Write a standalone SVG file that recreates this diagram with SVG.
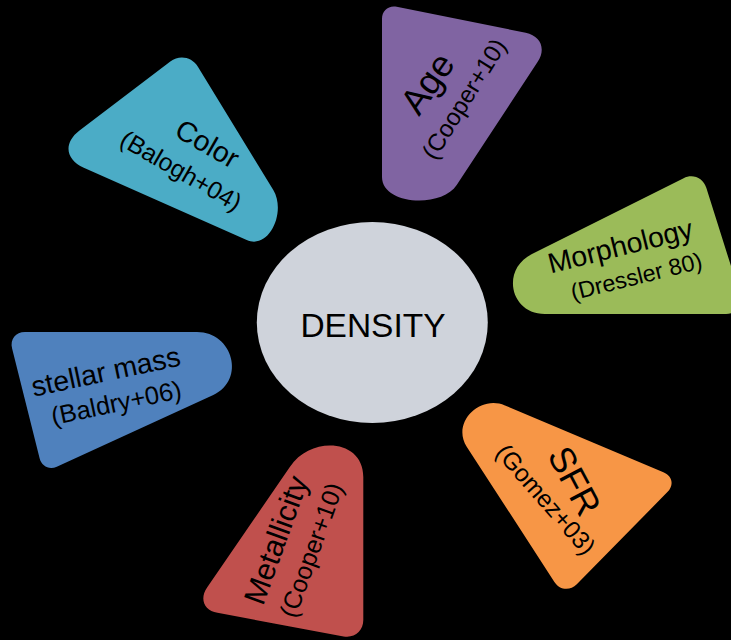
<svg xmlns="http://www.w3.org/2000/svg" width="731" height="640" viewBox="0 0 731 640">
  <style>
    .lbl { font-family: "Liberation Sans", Arial, sans-serif; fill: #000; text-anchor: middle; }
    .hub { fill: #CFD3DB; }
  </style>
  <!-- background -->
  <rect x="0" y="0" width="731" height="640" fill="#000"/>

  <!-- central hub -->
  <g id="density">
    <ellipse class="hub" cx="372.3" cy="322.5" rx="115.5" ry="100.5"/>
    <text class="lbl" x="373" y="336.7" font-size="33.5">DENSITY</text>
  </g>

  <!-- tapered petals around the hub, rounded caps pointing inward -->
  <g id="color">
    <path fill="#4BACC6" d="M79.5,130.4 L170.3,61.5 C179.5,54.5 191.9,56.9 197.9,66.7 L273.3,190 C286.3,211.3 269.6,250.1 246.7,240 L83.8,167.8 C65.2,159.6 63.3,142.7 79.5,130.4 Z"/>
    <text class="lbl" font-size="28.5" transform="translate(202.4,152.2) rotate(30)">Color</text>
    <text class="lbl" font-size="24.7" transform="translate(176.8,178.1) rotate(30)">(Balogh+04)</text>
  </g>

  <g id="age">
    <path fill="#8064A2" d="M396.7,6.7 L525.7,32.8 C540.8,35.9 546.2,48.9 537.7,61.8 L456.7,185 C441.3,208.4 382,205 382,177 L382,18.7 C382,10.45 388.6,5.05 396.7,6.7 Z"/>
    <text class="lbl" font-size="36.5" transform="translate(437.5,90.5) rotate(-55)">Age</text>
    <text class="lbl" font-size="24.2" transform="translate(471.1,103.3) rotate(-58)">(Cooper+10)</text>
  </g>

  <g id="morphology">
    <path fill="#9BBB59" d="M532,254 L683.6,178.2 C692.9,173.5 703.2,177.9 706.3,187.8 L740.1,294.9 C743.4,305.4 737.1,314 726.1,314 L545,314 C510,314 500.7,269.6 532,254 Z"/>
    <text class="lbl" font-size="28.4" transform="translate(622.6,255.5) rotate(-14)">Morphology</text>
    <text class="lbl" font-size="23.3" transform="translate(638.2,284.2) rotate(-14)">(Dressler 80)</text>
  </g>

  <g id="sfr">
    <path fill="#F79646" d="M505,405.4 L663.4,472.3 C672.5,476.2 674.3,485 667.4,492.1 L576.8,584.2 C569.9,591.2 559.8,590.2 554.4,581.9 L466.7,446.7 C451.5,423.2 479.2,394.5 505,405.4 Z"/>
    <text class="lbl" font-size="36" transform="translate(563.6,486.9) rotate(62)">SFR</text>
    <text class="lbl" font-size="24.5" transform="translate(539.4,505) rotate(49)">(Gomez+03)</text>
  </g>

  <g id="metallicity">
    <path fill="#C0504D" d="M290,466.7 C311.5,435.4 363.3,439 363.3,477 L363.3,620.1 C363.3,631.1 354.4,638.4 343.6,636.4 L217.5,612.8 C204,610.3 199.3,598.9 207.1,587.6 Z"/>
    <text class="lbl" font-size="30.5" transform="translate(285.8,543.5) rotate(-70)">Metallicity</text>
    <text class="lbl" font-size="25" transform="translate(319.4,553) rotate(-70)">(Cooper+10)</text>
  </g>

  <g id="stellar-mass">
    <path fill="#4F81BD" d="M25,332 L197,332 C233,332 246,380 213.3,395 L56.8,466.7 C49.3,470.1 41.6,466.3 39.6,458.3 L12.1,348.5 C9.8,339.4 15.7,332 25,332 Z"/>
    <text class="lbl" font-size="28.4" transform="translate(107.7,381) rotate(-12)">stellar mass</text>
    <text class="lbl" font-size="25.5" transform="translate(118.1,411.5) rotate(-12)">(Baldry+06)</text>
  </g>
</svg>
